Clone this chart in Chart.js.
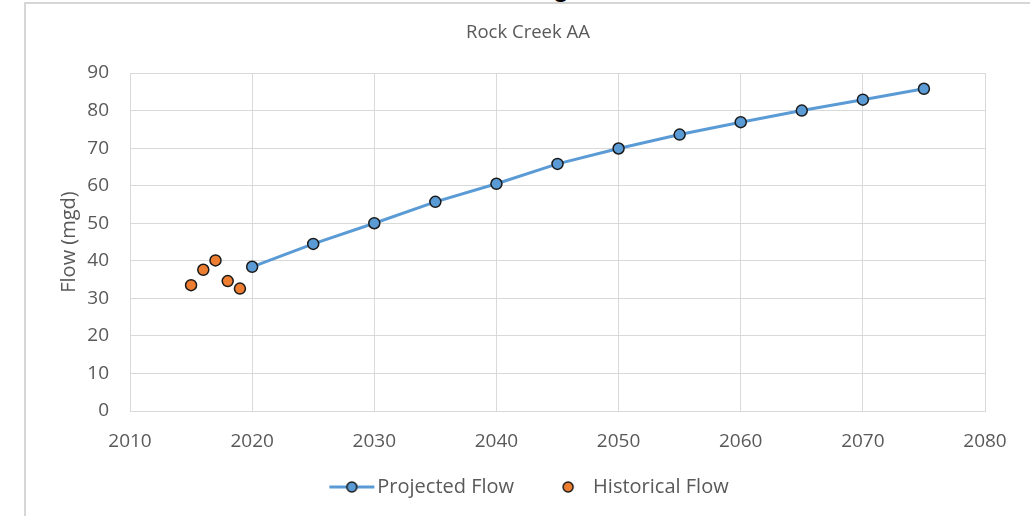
<!DOCTYPE html>
<html>
<head>
<meta charset="utf-8">
<script src="https://cdn.jsdelivr.net/npm/chart.js@4.4.1/dist/chart.umd.min.js"></script>
<style>
  html, body { margin: 0; padding: 0; background: #ffffff; }
  #wrap { position: relative; width: 1030px; height: 516px; overflow: hidden; background: #fff; }
  #frame { position: absolute; left: 24px; top: 2px; width: 1100px; height: 600px;
           border-left: 2px solid #d6d6d6; border-top: 2px solid #d6d6d6; box-sizing: border-box; }
  #cut { position: absolute; left: 553px; top: -25px; font: bold 26px "Liberation Sans", sans-serif;
         line-height: 26px; color: #000; }
  canvas { position: absolute; left: 0; top: 0; }
</style>
</head>
<body>
<div id="wrap">
  <div id="frame"></div>
  <div id="cut">g</div>
  <canvas id="c" width="1030" height="516"></canvas>
</div>
<script>
const chartTitle = "Rock Creek AA";
const yAxisTitle = "Flow (mgd)";
const projectedLabel = "Projected Flow";
const historicalLabel = "Historical Flow";

const projectedYears  = [2020, 2025, 2030, 2035, 2040, 2045, 2050, 2055, 2060, 2065, 2070, 2075];
const projectedValues = [38.4, 44.5, 50.0, 55.7, 60.5, 65.8, 69.9, 73.6, 76.9, 80.0, 82.9, 85.8];

const historicalYears  = [2015, 2016, 2017, 2018, 2019];
const historicalValues = [33.5, 37.6, 40.1, 34.6, 32.6];

const xTicks = [2010, 2020, 2030, 2040, 2050, 2060, 2070, 2080];
const yTicks = [0, 10, 20, 30, 40, 50, 60, 70, 80, 90];

const BLUE = "#5b9bd5", ORANGE = "#ed7d31", EDGE = "#1a1a1a", TXT = "#595959", GRID = "#d9d9d9";

function markerImage(withLine, fill, cx) {
  const cv = document.createElement("canvas");
  cv.width = 60; cv.height = 16;
  const g = cv.getContext("2d");
  if (withLine) {
    g.strokeStyle = fill; g.lineWidth = 3;
    g.beginPath(); g.moveTo(12, 8); g.lineTo(57, 8); g.stroke();
  }
  g.fillStyle = fill; g.strokeStyle = EDGE; g.lineWidth = 1.5;
  g.beginPath(); g.arc(cx, 8, 5, 0, Math.PI * 2); g.fill(); g.stroke();
  return cv;
}
const projMarker = markerImage(true, BLUE, 34.5);
const histMarker = markerImage(false, ORANGE, 35);

Chart.defaults.font.family = "'Open Sans', 'Liberation Sans', sans-serif";
Chart.defaults.color = TXT;

new Chart(document.getElementById("c"), {
  type: "line",
  data: {
    datasets: [
      {
        label: projectedLabel,
        data: projectedYears.map((x, i) => ({ x, y: projectedValues[i] })),
        borderColor: BLUE, backgroundColor: BLUE, borderWidth: 3,
        pointRadius: 5.5, pointBorderColor: EDGE, pointBorderWidth: 1.5,
        pointBackgroundColor: BLUE, tension: 0, showLine: true
      },
      {
        label: historicalLabel,
        data: historicalYears.map((x, i) => ({ x, y: historicalValues[i] })),
        borderColor: ORANGE, backgroundColor: ORANGE,
        pointRadius: 5.5, pointBorderColor: EDGE, pointBorderWidth: 1.5,
        pointBackgroundColor: ORANGE, showLine: false
      }
    ]
  },
  options: {
    responsive: false,
    animation: false,
    layout: { padding: { left: 71, right: 45, top: 0, bottom: 9 } },
    plugins: {
      title: {
        display: true, text: chartTitle, color: TXT,
        font: { size: 18.5, weight: "normal" },
        padding: { top: 22, bottom: 28.8 }
      },
      legend: {
        position: "bottom",
        labels: {
          usePointStyle: true, pointStyleWidth: 40, padding: 29,
          font: { size: 20 }, color: TXT,
          generateLabels: (chart) => [
            { text: projectedLabel, pointStyle: projMarker, datasetIndex: 0, fontColor: TXT, lineWidth: 0 },
            { text: historicalLabel, pointStyle: histMarker, datasetIndex: 1, fontColor: TXT, lineWidth: 0 }
          ]
        }
      },
      tooltip: { enabled: false }
    },
    scales: {
      x: {
        type: "linear", min: xTicks[0], max: xTicks[xTicks.length - 1],
        afterBuildTicks: (s) => { s.ticks = xTicks.map(v => ({ value: v })); },
        ticks: { font: { size: 19 }, color: TXT, padding: 19, callback: v => String(v) },
        grid: { color: GRID, lineWidth: 1, drawTicks: false },
        border: { color: GRID, width: 1 },
        afterFit: (s) => { s.height = 37; }
      },
      y: {
        type: "linear", min: yTicks[0], max: yTicks[yTicks.length - 1],
        afterBuildTicks: (s) => { s.ticks = yTicks.map(v => ({ value: v })); },
        ticks: { font: { size: 19 }, color: TXT, padding: 21 },
        grid: { color: GRID, lineWidth: 1, drawTicks: false },
        border: { color: GRID, width: 1 },
        title: { display: true, text: yAxisTitle, color: TXT, font: { size: 20 }, padding: { top: -14, bottom: 0 } },
        afterFit: (s) => { s.width = 59; }
      }
    }
  }
});
</script>
</body>
</html>
